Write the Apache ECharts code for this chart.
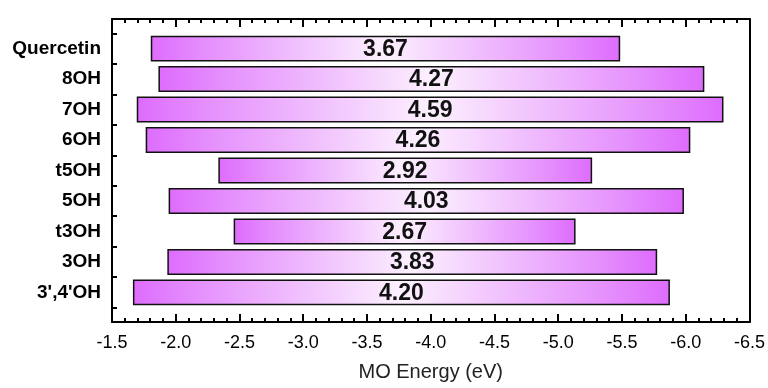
<!DOCTYPE html>
<html>
<head>
<meta charset="utf-8">
<script src="https://cdn.jsdelivr.net/npm/echarts@6/dist/echarts.min.js"></script>
<style>html,body{margin:0;padding:0;background:#fff;}#c{width:768px;height:388px;}</style>
</head>
<body>
<div id="c"></div>
<script>
var categories = ["Quercetin", "8OH", "7OH", "6OH", "t5OH", "5OH", "t3OH", "3OH", "3',4'OH"];
var lumo = [-1.81, -1.87, -1.70, -1.77, -2.34, -1.95, -2.46, -1.94, -1.67];
var homo = [-5.48, -6.14, -6.29, -6.03, -5.26, -5.98, -5.13, -5.77, -5.87];
var gaps = [3.67, 4.27, 4.59, 4.26, 2.92, 4.03, 2.67, 3.83, 4.20];
var xTicks = ["-1.5", "-2.0", "-2.5", "-3.0", "-3.5", "-4.0", "-4.5", "-5.0", "-5.5", "-6.0", "-6.5"];

var FONT = "'Liberation Sans', Arial, sans-serif";
var chart = echarts.init(document.getElementById('c'));
var data = categories.map(function (c, i) { return [i, lumo[i], homo[i], gaps[i]]; });
var tickVals = [];
for (var k = 0; k <= categories.length; k++) tickVals.push(k - 0.5);
var labelVals = categories.map(function (c, i) { return i; });

var fill = new echarts.graphic.LinearGradient(0, 0, 1, 0, [
  {offset: 0, color: '#de6cfd'},
  {offset: 0.12, color: '#e590fd'},
  {offset: 0.5, color: '#fcf0fe'},
  {offset: 0.88, color: '#e590fd'},
  {offset: 1, color: '#de6cfd'}
]);

chart.setOption({
  animation: false,
  backgroundColor: '#fff',
  grid: {left: 112, right: 18, top: 19, bottom: 66, containLabel: false},
  xAxis: [{
    type: 'value', min: -6.5, max: -1.5, interval: 0.5, inverse: true,
    position: 'bottom',
    axisLine: {show: true, onZero: false, lineStyle: {color: '#000', width: 2}},
    axisTick: {show: true, inside: true, length: 8, lineStyle: {color: '#000', width: 2}},
    minorTick: {show: true, splitNumber: 5, length: 4, lineStyle: {color: '#000', width: 2}},
    splitLine: {show: false},
    axisLabel: {show: true, margin: 12, color: '#000', fontSize: 18, fontFamily: FONT,
      formatter: function (v) { var s = v.toFixed(1); return xTicks.indexOf(s) >= 0 ? s : ''; }},
    name: 'MO Energy (eV)', nameLocation: 'middle', nameGap: 40,
    nameTextStyle: {fontSize: 20, color: '#222', fontFamily: FONT}
  }, {
    type: 'value', min: -6.5, max: -1.5, interval: 0.5, inverse: true,
    position: 'top',
    axisLine: {show: true, onZero: false, lineStyle: {color: '#000', width: 2}},
    axisTick: {show: true, inside: true, length: 8, lineStyle: {color: '#000', width: 2}},
    minorTick: {show: true, splitNumber: 5, length: 4, lineStyle: {color: '#000', width: 2}},
    splitLine: {show: false},
    axisLabel: {show: false}
  }],
  yAxis: [{
    type: 'value', min: -0.97, max: 8.97, inverse: true, position: 'left',
    axisLine: {show: true, onZero: false, lineStyle: {color: '#000', width: 2}},
    axisTick: {show: true, inside: true, length: 5, customValues: tickVals, lineStyle: {color: '#000', width: 2}},
    splitLine: {show: false},
    axisLabel: {show: true, margin: 11, customValues: labelVals, color: '#000', fontSize: 19,
      fontWeight: 'bold', fontFamily: FONT,
      formatter: function (v) { return categories[Math.round(v)] || ''; }}
  }, {
    type: 'value', min: -0.97, max: 8.97, inverse: true, position: 'right',
    axisLine: {show: true, onZero: false, lineStyle: {color: '#000', width: 2}},
    axisTick: {show: false}, splitLine: {show: false}, axisLabel: {show: false}
  }],
  series: [{
    type: 'custom',
    xAxisIndex: 0, yAxisIndex: 0,
    encode: {x: [1, 2], y: 0},
    data: data,
    renderItem: function (params, api) {
      var i = api.value(0);
      var p1 = api.coord([api.value(1), i]);
      var p2 = api.coord([api.value(2), i]);
      var h = api.size([0, 1])[1] * 0.8;
      var x0 = Math.min(p1[0], p2[0]);
      var w = Math.abs(p2[0] - p1[0]);
      return {
        type: 'group',
        children: [{
          type: 'rect',
          shape: {x: x0, y: p1[1] - h / 2, width: w, height: h},
          style: {fill: fill, stroke: '#111', lineWidth: 1.5}
        }, {
          type: 'text',
          style: {
            text: api.value(3).toFixed(2),
            x: x0 + w / 2, y: p1[1] + 1,
            align: 'center', verticalAlign: 'middle',
            font: 'bold 23px ' + FONT,
            fill: '#111'
          }
        }]
      };
    }
  }]
});
</script>
</body>
</html>
